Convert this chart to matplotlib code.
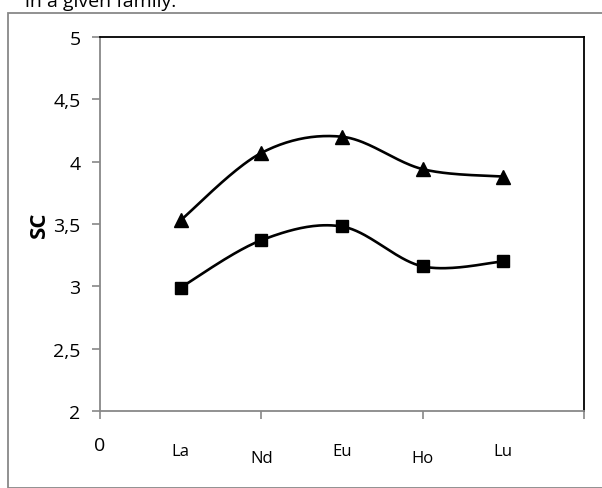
import numpy as np
import matplotlib
matplotlib.use("Agg")
import matplotlib.pyplot as plt
from matplotlib.patches import Rectangle

plt.rcParams['font.family'] = ['Open Sans', 'DejaVu Sans']

elements = ["La", "Nd", "Eu", "Ho", "Lu"]
x_pos = [0.5, 1.0, 1.5, 2.0, 2.5]
sc_triangle = [3.53, 4.07, 4.20, 3.94, 3.88]
sc_square = [2.99, 3.37, 3.48, 3.16, 3.20]
y_ticks = [2, 2.5, 3, 3.5, 4, 4.5, 5]
y_tick_labels = ["2", "2,5", "3", "3,5", "4", "4,5", "5"]
label_drop = [40, 47, 40, 47, 40]


def smooth(xs, ys, n=40):
    """Catmull-Rom style smoothing similar to spreadsheet smoothed lines."""
    xs = np.asarray(xs, float)
    ys = np.asarray(ys, float)
    px = np.concatenate([[xs[0]], xs, [xs[-1]]])
    py = np.concatenate([[ys[0]], ys, [ys[-1]]])
    ox, oy = [], []
    for i in range(1, len(px) - 2):
        p0 = np.array([px[i - 1], py[i - 1]])
        p1 = np.array([px[i], py[i]])
        p2 = np.array([px[i + 1], py[i + 1]])
        p3 = np.array([px[i + 2], py[i + 2]])
        c1 = p1 + (p2 - p0) / 6.0
        c2 = p2 - (p3 - p1) / 6.0
        t = np.linspace(0, 1, n)[:, None]
        pts = ((1 - t) ** 3) * p1 + 3 * ((1 - t) ** 2) * t * c1 + 3 * (1 - t) * t ** 2 * c2 + t ** 3 * p2
        ox.extend(pts[:, 0])
        oy.extend(pts[:, 1])
    return np.array(ox), np.array(oy)


fig = plt.figure(figsize=(6.02, 4.89), dpi=100)
W, H = 602, 489
ax = fig.add_axes([100 / W, 1 - 412 / H, 484 / W, 374 / H])

for ys, mk, ms in [(sc_triangle, '^', 10), (sc_square, 's', 9)]:
    sx, sy = smooth(x_pos, ys)
    ax.plot(sx, sy, color='black', lw=1.9, zorder=2)
    ax.plot(x_pos, ys, linestyle='none', marker=mk, markersize=ms,
            color='black', zorder=3)

ax.set_xlim(0, 3)
ax.set_ylim(2, 5)
ax.set_yticks(y_ticks)
ax.set_yticklabels(y_tick_labels, fontsize=14)
ax.set_xticks([0, 1, 2, 3])
ax.set_xticklabels(["0", "", "", ""], fontsize=14)
ax.tick_params(axis='both', direction='out', length=6, width=1.2, color='#888888')
ax.tick_params(axis='y', pad=8)
ax.tick_params(axis='x', pad=12)
for s in ['top', 'right']:
    ax.spines[s].set_color('black')
    ax.spines[s].set_linewidth(1.3)
for s in ['left', 'bottom']:
    ax.spines[s].set_color('#888888')
    ax.spines[s].set_linewidth(1.3)

for xv, lab, drop in zip(x_pos, elements, label_drop):
    ax.annotate(lab, xy=(xv, 0), xycoords=ax.get_xaxis_transform(),
                xytext=(0, -drop), textcoords='offset pixels',
                ha='center', va='center', fontsize=12)

ax.set_ylabel("SC", fontsize=16, fontweight='bold', labelpad=2)

fig.patches.append(Rectangle((8 / W, 0), 1.2, 1 - 14 / H, transform=fig.transFigure,
                             fill=False, edgecolor='#888888', lw=1.3, zorder=0))
fig.text(25 / W, 1 + 7 / H, "in a given family.", fontsize=14, ha='left', va='top')

fig.savefig("out.png", dpi=100)
